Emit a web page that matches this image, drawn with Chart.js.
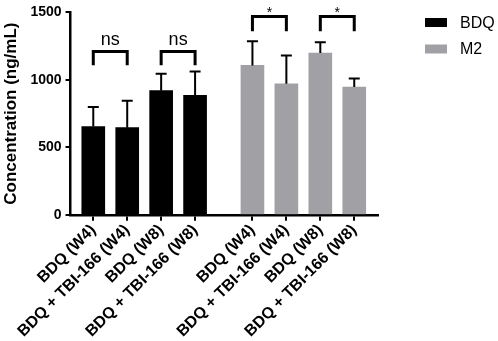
<!DOCTYPE html>
<html>
<head>
<meta charset="utf-8">
<script src="https://cdn.jsdelivr.net/npm/chart.js@4"></script>
<style>
  html, body { margin: 0; padding: 0; background: #fff; }
  #wrap { width: 498px; height: 341px; }
</style>
</head>
<body>
<div id="wrap"><canvas id="chart"></canvas></div>
<script>
const xLabels = ['BDQ (W4)', 'BDQ + TBI-166 (W4)', 'BDQ (W8)', 'BDQ + TBI-166 (W8)',
                 'BDQ (W4)', 'BDQ + TBI-166 (W4)', 'BDQ (W8)', 'BDQ + TBI-166 (W8)'];
const xPos = [0, 1, 2, 3, 4.69, 5.69, 6.69, 7.69];
const bdqMean = [655, 646, 920, 886];
const bdqSd = [144, 199, 126, 177];
const m2Mean = [1107, 971, 1199, 947];
const m2Sd = [180, 209, 80, 63];
const yTicks = [0, 500, 1000, 1500];

// significance brackets (bar index pairs, label, bracket top, leg bottom)
const sigPairs = [[0, 1], [2, 3], [4, 5], [6, 7]];
const sigLabels = ['ns', 'ns', '*', '*'];
const sigTop = [1211, 1211, 1469, 1469];
const sigLeg = [1109, 1109, 1360, 1360];

const FONT = "'Liberation Sans', Arial, Helvetica, sans-serif";
Chart.defaults.font.family = FONT;
Chart.defaults.color = '#000';

const errorBars = {
    id: 'errorBars',
    afterDatasetsDraw(chart) {
        const ctx = chart.ctx;
        const y = chart.scales.y;
        ctx.save();
        ctx.strokeStyle = '#000';
        ctx.lineWidth = 2;
        chart.data.datasets.forEach((ds, i) => {
            const meta = chart.getDatasetMeta(i);
            meta.data.forEach((bar, j) => {
                const top = y.getPixelForValue(ds.data[j].y + ds.sd[j]);
                ctx.beginPath();
                ctx.moveTo(bar.x, bar.y);
                ctx.lineTo(bar.x, top);
                ctx.moveTo(bar.x - 5.5, top);
                ctx.lineTo(bar.x + 5.5, top);
                ctx.stroke();
            });
        });
        ctx.restore();
    }
};

const brackets = {
    id: 'brackets',
    afterDatasetsDraw(chart) {
        const ctx = chart.ctx;
        const x = chart.scales.x, y = chart.scales.y;
        ctx.save();
        ctx.strokeStyle = '#000';
        ctx.fillStyle = '#000';
        ctx.lineWidth = 3;
        sigPairs.forEach((p, k) => {
            const x1 = x.getPixelForValue(xPos[p[0]]);
            const x2 = x.getPixelForValue(xPos[p[1]]);
            const yt = y.getPixelForValue(sigTop[k]);
            const yb = y.getPixelForValue(sigLeg[k]);
            ctx.beginPath();
            ctx.moveTo(x1, yb);
            ctx.lineTo(x1, yt);
            ctx.lineTo(x2, yt);
            ctx.lineTo(x2, yb);
            ctx.stroke();
            ctx.textAlign = 'center';
            ctx.textBaseline = 'alphabetic';
            if (sigLabels[k] === '*') {
                ctx.font = '14px ' + FONT;
                ctx.fillText('*', (x1 + x2) / 2, yt);
            } else {
                ctx.font = '18px ' + FONT;
                ctx.fillText(sigLabels[k], (x1 + x2) / 2, yt - 6);
            }
        });
        ctx.restore();
    }
};

const sideLegend = {
    id: 'sideLegend',
    afterDraw(chart) {
        const ctx = chart.ctx;
        ctx.save();
        ctx.font = '16px ' + FONT;
        ctx.textBaseline = 'middle';
        ctx.textAlign = 'left';
        chart.data.datasets.forEach((ds, i) => {
            const cy = 22.5 + i * 26.5;
            ctx.fillStyle = ds.backgroundColor;
            ctx.fillRect(425, cy - 4.5, 22, 9);
            ctx.fillStyle = '#000';
            ctx.fillText(ds.label, 460, cy + 1);
        });
        ctx.restore();
    }
};

new Chart(document.getElementById('chart'), {
    type: 'bar',
    data: {
        datasets: [
            {
                label: 'BDQ',
                data: bdqMean.map((v, i) => ({ x: xPos[i], y: v })),
                sd: bdqSd,
                backgroundColor: '#000000'
            },
            {
                label: 'M2',
                data: m2Mean.map((v, i) => ({ x: xPos[i + 4], y: v })),
                sd: m2Sd,
                backgroundColor: '#a1a1a5'
            }
        ]
    },
    options: {
        responsive: true,
        maintainAspectRatio: false,
        animation: false,
        datasets: { bar: { grouped: false, barThickness: 23 } },
        layout: { padding: { left: 1, right: 120, top: 1, bottom: 0 } },
        plugins: {
            legend: { display: false },
            tooltip: { enabled: false }
        },
        scales: {
            x: {
                type: 'linear',
                offset: false,
                min: -0.67,
                max: 8.39,
                afterBuildTicks: axis => { axis.ticks = xPos.map(v => ({ value: v })); },
                ticks: {
                    callback: (v, i) => xLabels[i],
                    autoSkip: false,
                    minRotation: 45,
                    maxRotation: 45,
                    padding: 0,
                    font: { size: 16, weight: 'bold' }
                },
                grid: { offset: false, drawOnChartArea: false, drawTicks: true, tickLength: 6, color: '#000', lineWidth: 2 },
                border: { color: '#000', width: 2.5 }
            },
            y: {
                min: 0,
                max: 1500,
                afterBuildTicks: axis => { axis.ticks = yTicks.map(v => ({ value: v })); },
                ticks: {
                    callback: v => String(v),
                    padding: 4,
                    font: { size: 14, weight: 'bold' }
                },
                grid: { drawOnChartArea: false, drawTicks: true, tickLength: 5, color: '#000', lineWidth: 2 },
                border: { color: '#000', width: 2.5 },
                title: {
                    display: true,
                    text: 'Concentration (ng/mL)',
                    font: { size: 17, weight: 'bold' },
                    padding: { top: 0, bottom: 5 }
                }
            }
        }
    },
    plugins: [errorBars, brackets, sideLegend]
});
</script>
</body>
</html>
